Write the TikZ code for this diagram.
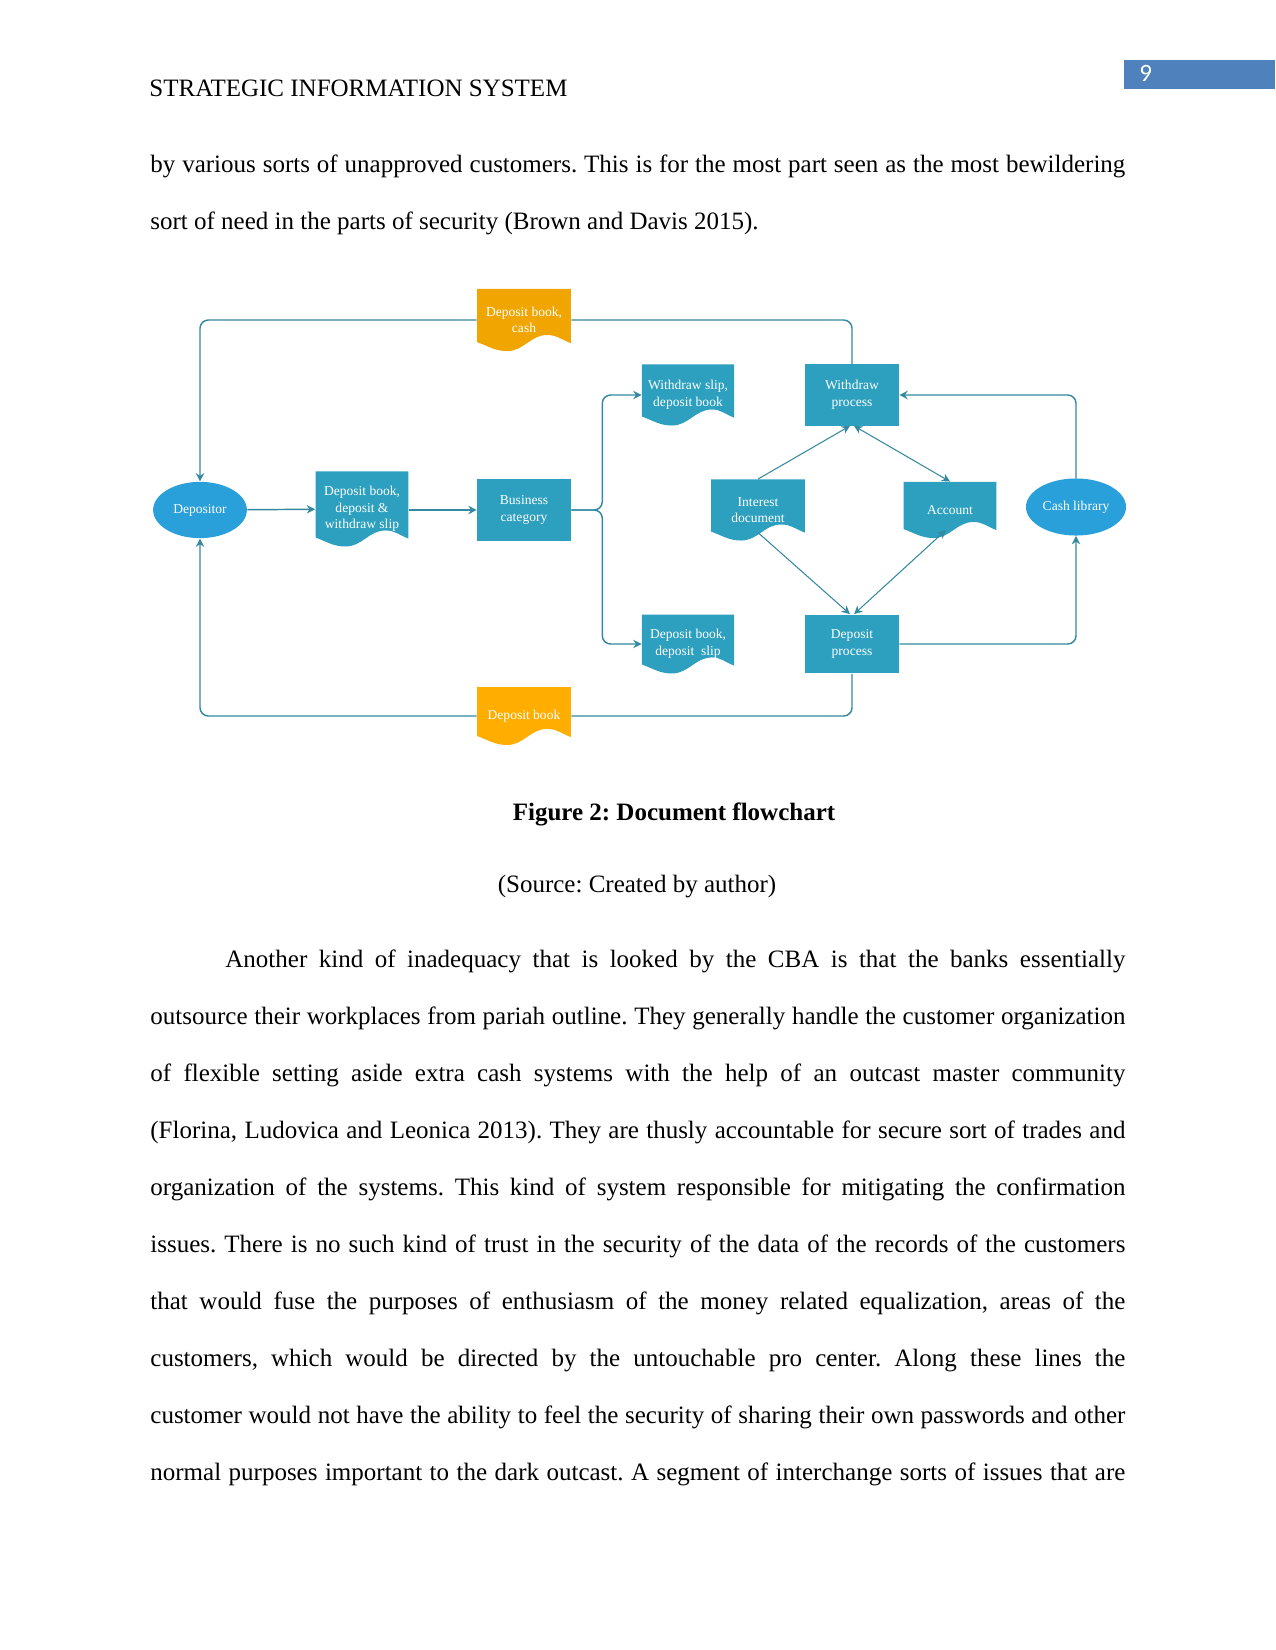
\documentclass[tikz,border=0pt]{standalone}
\usepackage{fontspec}
\setmainfont{Liberation Serif}
\newfontfamily\numfont{Carlito}
\usepackage{tikz}
\usetikzlibrary{arrows.meta,positioning,shapes.geometric}
\frenchspacing

\definecolor{flowline}{RGB}{52,136,160}
\definecolor{procfill}{RGB}{44,160,190}
\definecolor{termfill}{RGB}{41,160,218}
\definecolor{docorange}{RGB}{240,165,0}
\definecolor{docyellow}{RGB}{255,174,0}
\definecolor{pagenum}{RGB}{79,129,189}

\newcommand{\diagfont}{\fontsize{6.5}{8}\selectfont}
\newcommand{\jline}[1]{\hbox to 468pt{#1}}

\tikzset{
  flow/.style={draw=flowline, line width=0.7pt, -{Stealth[length=4pt,width=4pt]}},
  plainflow/.style={draw=flowline, line width=0.7pt},
  process/.style={rectangle, fill=procfill, text=white, align=center, font=\diagfont,
    minimum width=45pt, inner sep=1pt},
  terminal/.style={ellipse, fill=termfill, text=white, align=center, font=\diagfont,
    inner sep=1pt},
  flowdoc/.style={rectangle, text=white, align=center, font=\diagfont,
    minimum width=44pt, inner sep=1pt,
    path picture={
      \fill[#1] (path picture bounding box.north west) -- (path picture bounding box.north east)
        -- ([yshift=3.8pt]path picture bounding box.south east)
        to[out=160,in=0] ([xshift=33.6pt,yshift=7.7pt]path picture bounding box.south west)
        to[out=180,in=0] ([xshift=14.4pt]path picture bounding box.south west)
        to[out=180,in=-20] ([yshift=4.3pt]path picture bounding box.south west) -- cycle;}},
  bodytext/.style={anchor=base west, inner sep=0pt, font=\fontsize{12}{14}\selectfont},
}

\begin{document}
\begin{tikzpicture}[x=0.48pt,y=0.48pt]
\useasboundingbox (0,0) rectangle (1275,-1650);

% page head
\node[bodytext] (head) at (149,-97) {STRATEGIC INFORMATION SYSTEM};
\fill[pagenum] (1124,-60) rectangle (1275,-89);
\node[anchor=base west, inner sep=0pt, text=white, font=\numfont\fontsize{12}{14}\selectfont] (pnum) at (1139,-82) {9};

\node[bodytext] (l1) at (150,-173) {\jline{by various sorts of unapproved customers. This is for the most part seen as the most bewildering}};
\node[bodytext] (l2) at (150,-230) {sort of need in the parts of security (Brown and Davis 2015).};

% flowchart nodes
\node[terminal, minimum width=45pt, minimum height=27pt] (depositor) at (200,-510) {Depositor};
\node[flowdoc=procfill, minimum width=44.6pt, minimum height=36pt] (dwslip) at (362,-509) {Deposit book,\\ deposit \&\\ withdraw slip};
\node[process, minimum height=29.3pt] (bizcat) at (524,-510) {Business\\ category};
\node[flowdoc=docorange, minimum width=45pt, minimum height=29.8pt] (topdoc) at (524,-320) {Deposit book,\\ cash};
\node[flowdoc=procfill, minimum width=44.2pt, minimum height=29.3pt] (wslip) at (688,-395) {Withdraw slip,\\ deposit book};
\node[process, minimum height=29.3pt] (wproc) at (852,-395) {Withdraw\\ process};
\node[flowdoc=procfill, minimum width=45pt, minimum height=29.3pt] (intdoc) at (758,-510) {Interest\\ document};
\node[flowdoc=procfill, minimum width=44.6pt, minimum height=26.9pt] (account) at (950,-510) {Account};
\node[terminal, minimum width=45pt, minimum height=27.4pt] (cashlib) at (1076,-507) {Cash library};
\node[flowdoc=procfill, minimum width=44.2pt, minimum height=28.3pt] (dslip) at (688,-644) {Deposit book,\\ deposit~~slip};
\node[process, minimum height=28.3pt] (dproc) at (852,-644) {Deposit\\ process};
\node[flowdoc=docyellow, minimum width=45pt, minimum height=27.8pt] (botdoc) at (524,-716) {Deposit book};

% connectors
\draw[flow] (depositor) -- (dwslip);
\draw[flow] (dwslip.east |- bizcat) -- (bizcat);
\draw[flow, rounded corners=4pt] (bizcat.east) -- ++(31,0) |- (wslip.west);
\draw[flow, rounded corners=4pt] (bizcat.east) -- ++(31,0) |- (dslip.west);
\draw[plainflow, rounded corners=4pt] (wproc.north) |- (topdoc.east);
\draw[flow, rounded corners=4pt] (topdoc.west) -| (depositor.north);
\draw[plainflow, rounded corners=4pt] (dproc.south) |- (botdoc.east);
\draw[flow, rounded corners=4pt] (botdoc.west) -| (depositor.south);
\draw[flow, rounded corners=4pt] (cashlib.north) |- (wproc.east);
\draw[flow, rounded corners=4pt] (dproc.east) -| (cashlib.south);
\draw[flow, line width=0.5pt] (intdoc.north) -- ([xshift=-1pt]wproc.south);
\draw[flow, line width=0.5pt, {Stealth[length=4pt,width=4pt]}-{Stealth[length=4pt,width=4pt]}] ([xshift=1pt]wproc.south) -- (account.north);
\draw[flow, line width=0.5pt] ([yshift=4pt]intdoc.south) -- ([xshift=-1pt]dproc.north);
\draw[flow, line width=0.5pt, {Stealth[length=4pt,width=4pt]}-{Stealth[length=4pt,width=4pt]}] ([xshift=1pt]dproc.north) -- ([xshift=-2pt,yshift=4pt]account.south);

% caption
\node[anchor=base, inner sep=0pt, font=\fontsize{12}{14}\selectfont\bfseries] (cap) at (674,-820) {Figure 2: Document flowchart};
\node[anchor=base, inner sep=0pt, font=\fontsize{12}{14}\selectfont] (src) at (637,-892) {(Source: Created by author)};

% body paragraph
\node[bodytext] (p1) at (150,-967) {\jline{\hspace{36pt}Another kind of inadequacy that is looked by the CBA is that the banks essentially}};
\node[bodytext] (p2) at (150,-1024) {\jline{outsource their workplaces from pariah outline. They generally handle the customer organization}};
\node[bodytext] (p3) at (150,-1081) {\jline{of flexible setting aside extra cash systems with the help of an outcast master community}};
\node[bodytext] (p4) at (150,-1138) {\jline{(Florina, Ludovica and Leonica 2013). They are thusly accountable for secure sort of trades and}};
\node[bodytext] (p5) at (150,-1195) {\jline{organization of the systems. This kind of system responsible for mitigating the confirmation}};
\node[bodytext] (p6) at (150,-1252) {\jline{issues. There is no such kind of trust in the security of the data of the records of the customers}};
\node[bodytext] (p7) at (150,-1309) {\jline{that would fuse the purposes of enthusiasm of the money related equalization, areas of the}};
\node[bodytext] (p8) at (150,-1366) {\jline{customers, which would be directed by the untouchable pro center. Along these lines the}};
\node[bodytext] (p9) at (150,-1423) {\jline{customer would not have the ability to feel the security of sharing their own passwords and other}};
\node[bodytext] (p10) at (150,-1480) {\jline{normal purposes important to the dark outcast. A segment of interchange sorts of issues that are}};
\end{tikzpicture}
\end{document}
